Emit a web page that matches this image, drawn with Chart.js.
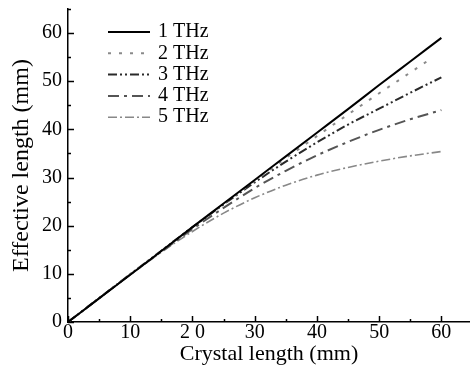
<!DOCTYPE html>
<html>
<head>
<meta charset="utf-8">
<script src="https://cdn.jsdelivr.net/npm/chart.js@4"></script>
<style>
  body { margin: 0; background: #fff; }
  #wrap { width: 470px; height: 367px; }
</style>
</head>
<body>
<div id="wrap"><canvas id="mycanvas"></canvas></div>
<script>
// crystal length (mm)
var lengths = [0, 5, 10, 15, 20, 25, 30, 35, 40, 45, 50, 55, 60];
var lengths2 = [0, 5, 10, 15, 20, 25, 30, 35, 40, 45, 50, 55, 58];

// effective length (mm) per frequency
var thz1 = [0, 4.9, 9.8, 14.75, 19.7, 24.6, 29.5, 34.4, 39.3, 44.2, 49.2, 54.1, 59.0];
var thz2 = [0, 4.95, 9.9, 14.8, 19.7, 24.5, 29.3, 34.0, 38.6, 43.1, 47.5, 51.8, 54.4];
var thz3 = [0, 4.95, 9.9, 14.8, 19.7, 24.4, 29.0, 33.3, 37.3, 41.0, 44.3, 47.6, 50.8];
var thz4 = [0, 4.95, 9.85, 14.6, 19.3, 23.7, 27.8, 31.4, 34.6, 37.4, 39.9, 42.1, 44.0];
var thz5 = [0, 4.95, 9.8, 14.5, 18.8, 22.6, 25.8, 28.4, 30.5, 32.1, 33.4, 34.5, 35.4];

var seriesNames = ["1 THz", "2 THz", "3 THz", "4 THz", "5 THz"];
var xTickLabels = {0: "0", 10: "10", 20: "2 0", 30: "30", 40: "40", 50: "50", 60: "60"};
var yTickLabels = {0: "0", 10: "10", 20: "20", 30: "30", 40: "40", 50: "50", 60: "60"};
var xTickValues = [0, 5, 10, 15, 20, 25, 30, 35, 40, 45, 50, 55, 60];
var yTickValues = [0, 5, 10, 15, 20, 25, 30, 35, 40, 45, 50, 55, 60, 65];

function toPoints(xs, ys) {
	var pts = [];
	for (var i in xs) {
		pts.push({x: xs[i], y: ys[i]});
	}
	return pts;
}

Chart.defaults.font.family = "'Liberation Serif', 'Times New Roman', serif";
Chart.defaults.color = "#000";

var styles = [
	{color: "#000", width: 2, dash: []},
	{color: "#8a8a8a", width: 2, dash: [3, 8]},
	{color: "#2a2a2a", width: 2, dash: [9, 3, 2, 3, 2, 3]},
	{color: "#555", width: 2, dash: [11, 5, 3, 5]},
	{color: "#888", width: 1.6, dash: [9, 3, 2, 3]}
];
var xs = [lengths, lengths2, lengths, lengths, lengths];
var ys = [thz1, thz2, thz3, thz4, thz5];

var datasets = [];
for (var i = 0; i < ys.length; i++) {
	datasets.push({
		label: seriesNames[i],
		data: toPoints(xs[i], ys[i]),
		showLine: true,
		fill: false,
		borderColor: styles[i].color,
		borderWidth: styles[i].width,
		borderDash: styles[i].dash,
		pointRadius: 0,
		cubicInterpolationMode: "monotone",
		order: i
	});
}

// inward ticks + legend drawn inside the plot
var extras = {
	id: "extras",
	afterDraw: function(chart) {
		var ctx = chart.ctx;
		var xs = chart.scales.x, ysc = chart.scales.y;
		var area = chart.chartArea;
		ctx.save();
		ctx.strokeStyle = "#000";
		ctx.lineWidth = 1.5;
		ctx.setLineDash([]);
		xTickValues.forEach(function(v) {
			var px = Math.round(xs.getPixelForValue(v)) + 0.5;
			var len = v % 10 === 0 ? 6 : 3;
			ctx.beginPath();
			ctx.moveTo(px, area.bottom);
			ctx.lineTo(px, area.bottom - len);
			ctx.stroke();
		});
		yTickValues.forEach(function(w) {
			var py = Math.round(ysc.getPixelForValue(w)) + 0.5;
			var len2 = w % 10 === 0 ? 6 : 3;
			ctx.beginPath();
			ctx.moveTo(area.left, py);
			ctx.lineTo(area.left + len2, py);
			ctx.stroke();
		});
		// legend
		ctx.font = "20px 'Liberation Serif', serif";
		ctx.textBaseline = "middle";
		ctx.fillStyle = "#000";
		for (var k = 0; k < seriesNames.length; k++) {
			var ly = area.top + 23 + k * 21.3;
			ctx.strokeStyle = styles[k].color;
			ctx.lineWidth = styles[k].width;
			ctx.setLineDash(styles[k].dash);
			ctx.beginPath();
			ctx.moveTo(area.left + 40, ly);
			ctx.lineTo(area.left + 82, ly);
			ctx.stroke();
			ctx.fillText(seriesNames[k], area.left + 90, ly);
		}
		ctx.restore();
	}
};

var LineGraph = new Chart(document.getElementById("mycanvas"), {
	type: "scatter",
	data: {datasets: datasets},
	plugins: [extras],
	options: {
		responsive: true,
		maintainAspectRatio: false,
		animation: false,
		layout: {padding: {top: 9, right: 0, left: 0, bottom: 0}},
		plugins: {legend: {display: false}, tooltip: {enabled: false}},
		scales: {
			x: {
				type: "linear",
				min: 0,
				max: 64.6,
				afterFit: function(scale) { scale.height = 45; },
				afterBuildTicks: function(scale) {
					scale.ticks = xTickValues.map(function(v) { return {value: v}; });
				},
				grid: {display: true, drawOnChartArea: false, drawTicks: false, tickLength: 0},
				border: {display: true, color: "#000", width: 1.5},
				ticks: {
					autoSkip: false,
					maxRotation: 0,
					padding: 1,
					font: {size: 20, lineHeight: 1},
					callback: function(v) { return xTickLabels[v] !== undefined ? xTickLabels[v] : ""; }
				},
				title: {display: true, text: "Crystal length (mm)", font: {size: 22, lineHeight: 1}, padding: {top: 2, bottom: 2}}
			},
			y: {
				type: "linear",
				min: 0,
				max: 65,
				afterFit: function(scale) {
					scale.width = 68;
					scale.paddingTop = 0;
					scale.paddingBottom = 0;
				},
				afterBuildTicks: function(scale) {
					scale.ticks = yTickValues.filter(function(v) { return v <= 60; }).map(function(v) { return {value: v}; });
				},
				grid: {display: true, drawOnChartArea: false, drawTicks: false, tickLength: 0},
				border: {display: true, color: "#000", width: 1.5},
				ticks: {
					autoSkip: false,
					padding: 6,
					font: {size: 20, lineHeight: 1},
					callback: function(v) { return yTickLabels[v] !== undefined ? yTickLabels[v] : ""; }
				},
				title: {display: true, text: "Effective length (mm)", font: {size: 24, lineHeight: 1}, padding: {top: 10, bottom: 0}}
			}
		}
	}
});
</script>
</body>
</html>
